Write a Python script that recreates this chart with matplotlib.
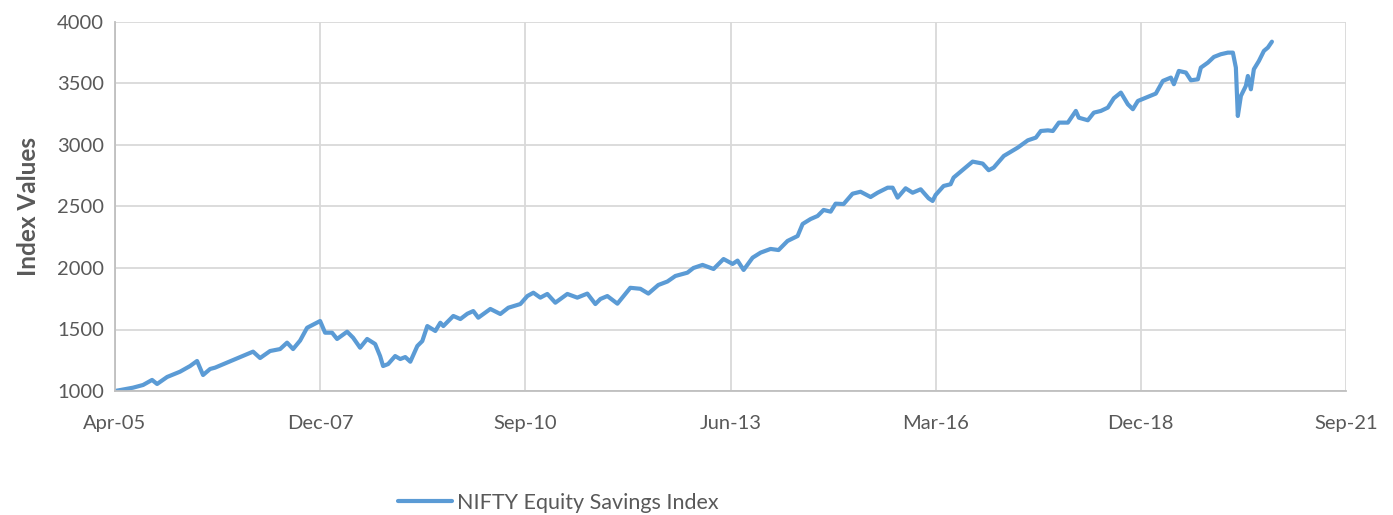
import numpy as np
import pandas as pd
import matplotlib
matplotlib.use('Agg')
import matplotlib.pyplot as plt
import matplotlib.dates as mdates

# dates as decimal years
years = [2005.247, 2005.487, 2005.621, 2005.741, 2005.808, 2005.942, 2006.115, 2006.249, 2006.342, 2006.422,
         2006.516, 2006.583, 2006.743, 2006.917, 2007.090, 2007.184, 2007.317, 2007.451, 2007.544, 2007.624,
         2007.718, 2007.811, 2007.985, 2008.052, 2008.145, 2008.212, 2008.346, 2008.426, 2008.519, 2008.613,
         2008.720, 2008.786, 2008.826, 2008.893, 2008.987, 2009.053, 2009.120, 2009.187, 2009.281, 2009.347,
         2009.414, 2009.521, 2009.588, 2009.628, 2009.761, 2009.855, 2009.948, 2010.028, 2010.095, 2010.256,
         2010.389, 2010.496, 2010.656, 2010.750, 2010.830, 2010.923, 2011.017, 2011.124, 2011.284, 2011.417,
         2011.551, 2011.658, 2011.725, 2011.818, 2011.952, 2012.125, 2012.259, 2012.366, 2012.499, 2012.620,
         2012.726, 2012.887, 2012.967, 2013.087, 2013.234, 2013.367, 2013.488, 2013.554, 2013.635, 2013.755,
         2013.862, 2013.995, 2014.102, 2014.222, 2014.356, 2014.423, 2014.529, 2014.623, 2014.703, 2014.797,
         2014.863, 2014.970, 2015.090, 2015.197, 2015.331, 2015.424, 2015.558, 2015.625, 2015.691, 2015.798,
         2015.892, 2015.999, 2016.105, 2016.159, 2016.199, 2016.306, 2016.399, 2016.439, 2016.573, 2016.693,
         2016.827, 2016.907, 2016.974, 2017.107, 2017.294, 2017.428, 2017.535, 2017.601, 2017.695, 2017.762,
         2017.842, 2017.962, 2018.069, 2018.109, 2018.229, 2018.309, 2018.403, 2018.496, 2018.576, 2018.670,
         2018.763, 2018.830, 2018.897, 2019.004, 2019.137, 2019.231, 2019.338, 2019.378, 2019.444, 2019.538,
         2019.605, 2019.698, 2019.738, 2019.832, 2019.912, 2020.005, 2020.099, 2020.166, 2020.206, 2020.232,
         2020.273, 2020.339, 2020.366, 2020.406, 2020.446, 2020.513, 2020.580, 2020.633, 2020.687]
values = [1000, 1027, 1049, 1090, 1057, 1114, 1157, 1203, 1244, 1130,
          1179, 1190, 1231, 1276, 1320, 1268, 1325, 1341, 1393, 1341,
          1410, 1514, 1569, 1474, 1474, 1423, 1482, 1433, 1352, 1423,
          1382, 1284, 1203, 1219, 1284, 1260, 1276, 1238, 1366, 1406,
          1528, 1488, 1555, 1528, 1610, 1585, 1628, 1650, 1596, 1667,
          1626, 1677, 1707, 1772, 1799, 1759, 1789, 1718, 1789, 1759,
          1792, 1707, 1748, 1772, 1710, 1839, 1831, 1792, 1862, 1890,
          1935, 1962, 2000, 2025, 1992, 2073, 2033, 2060, 1984, 2084,
          2125, 2155, 2146, 2220, 2260, 2358, 2398, 2423, 2472, 2458,
          2523, 2520, 2604, 2620, 2577, 2612, 2653, 2653, 2572, 2648,
          2612, 2640, 2567, 2545, 2594, 2667, 2681, 2735, 2803, 2865,
          2849, 2795, 2816, 2911, 2979, 3038, 3060, 3114, 3119, 3114,
          3182, 3182, 3277, 3222, 3201, 3263, 3277, 3304, 3380, 3426,
          3331, 3291, 3358, 3385, 3418, 3521, 3548, 3494, 3602, 3589,
          3526, 3534, 3629, 3670, 3716, 3738, 3751, 3751, 3629, 3236,
          3399, 3480, 3561, 3453, 3616, 3683, 3765, 3792, 3840]
series_name = 'NIFTY Equity Savings Index'
y_ticks = [1000, 1500, 2000, 2500, 3000, 3500, 4000]

def to_date(y):
    yr = int(y)
    return pd.Timestamp(yr, 1, 1) + pd.Timedelta(days=(y - yr) * 365.25)

dates = [to_date(y) for y in years]

plt.rcParams['font.family'] = ['Lato', 'DejaVu Sans']
grey = '#595959'

fig = plt.figure(figsize=(13.93, 5.15), dpi=100)
ax = fig.add_axes([115/1393, 1 - 391/515, (1346 - 115)/1393, (391 - 22)/515])

ax.plot(dates, values, color='#5B9BD5', lw=3.0, label=series_name,
        solid_joinstyle='round', solid_capstyle='round')

start = pd.Timestamp('2005-04-01')
xt = [start + pd.Timedelta(days=1000 * k) for k in range(7)]
ax.set_xticks(xt)
ax.xaxis.set_major_formatter(mdates.DateFormatter('%b-%y'))
ax.set_xlim(xt[0], xt[-1])
ax.set_ylim(1000, 4000)
ax.set_yticks(y_ticks)

ax.grid(True, color='#d9d9d9', lw=1.3)
ax.set_axisbelow(True)
for s in ['top', 'right']:
    ax.spines[s].set_visible(False)
for s in ['left', 'bottom']:
    ax.spines[s].set_color('#bfbfbf')
    ax.spines[s].set_linewidth(1.3)
ax.tick_params(length=0, labelsize=14.5, colors=grey, pad=8)
ax.tick_params(axis='x', pad=17)
ax.set_ylabel('Index Values', fontsize=17.5, fontweight='bold', color=grey, labelpad=12)

fig.legend(loc='center', bbox_to_anchor=(0.401, 0.024), frameon=False, fontsize=15.5,
           handlelength=2.5, handletextpad=0.25, labelcolor=grey)

fig.savefig('out.png', dpi=100)
